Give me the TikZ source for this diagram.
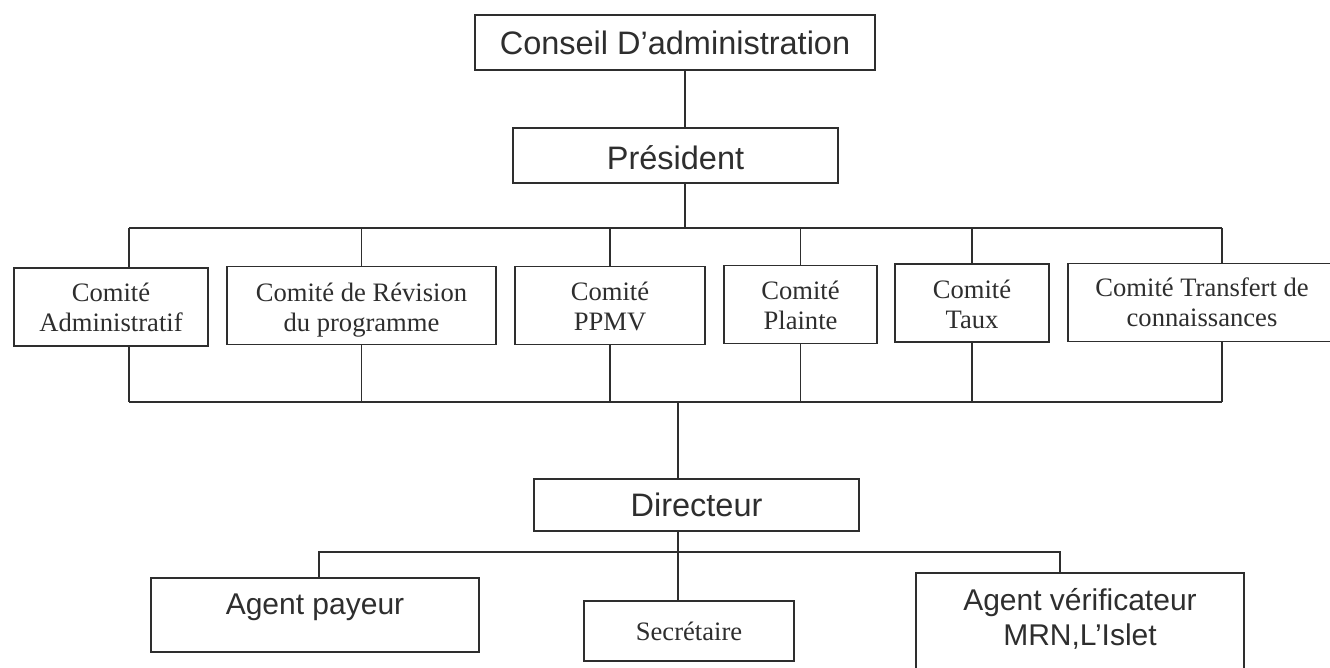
\documentclass[tikz,border=0pt]{standalone}
\usepackage{fontspec}
\setmainfont{Liberation Serif}
\setsansfont{Liberation Sans}
\usepackage{tikz}
\usetikzlibrary{positioning,calc}
\definecolor{ink}{HTML}{2E2E2E}
% move a (multi-line) label up or down inside its box
\newcommand\lift[2]{\raisebox{#1}[\height][\depth]{\begin{tabular}{@{}c@{}}#2\end{tabular}}}
\tikzset{
  box/.style={draw=ink, text=ink, line width=1.5pt, inner sep=0pt, align=center},
  headbox/.style={box, font=\sffamily\fontsize{32.5}{38}\selectfont},
  agentbox/.style={box, font=\sffamily\fontsize{30}{35}\selectfont},
  comitebox/.style={box, font=\fontsize{26.6}{30}\selectfont},
  link/.style={draw=ink, line width=1.5pt}
}

\begin{document}
\begin{tikzpicture}[x=1pt,y=-1pt]
	%% frame of the page
	\fill[white] (0,0) rectangle (1330,667);
	\useasboundingbox (0,0) rectangle (1330,667);
	\clip (0,0) rectangle (1330,667);

	\def\busTop{228} % bus over the comites
	\def\busLow{402} % bus under the comites
	\def\busAgt{552} % bus over the agents

	% top of the chart
	\node[headbox, minimum width=400, minimum height=55] (conseil) at (675,42.5) {Conseil D’administration};
	\node[headbox, minimum width=325, minimum height=55] (pres) at (675.5,155.5) {\lift{-6pt}{Président}};

	% comites
	\node[comitebox, minimum width=194, minimum height=78] (adm) at (111,307) {\lift{-3pt}{Comité\\Administratif}};
	\node[comitebox, minimum width=269, minimum height=78] (rev) at (361.5,305.5) {\lift{-5pt}{Comité de Révision\\du programme}};
	\node[comitebox, minimum width=190, minimum height=78] (ppmv) at (610,305.5) {\lift{-4pt}{Comité\\PPMV}};
	\node[comitebox, minimum width=153, minimum height=78] (plainte) at (800.5,304.5) {\lift{-4pt}{Comité\\Plainte}};
	\node[comitebox, minimum width=154, minimum height=78] (taux) at (972,303) {\lift{-4pt}{Comité\\Taux}};
	\node[comitebox, minimum width=268, minimum height=78] (transf) at (1202,302.5) {\lift{-3pt}{Comité Transfert de\\connaissances}};

	% direction
	\node[headbox, minimum width=325, minimum height=52] (dir) at (696.5,505) {\lift{-4pt}{Directeur}};
	\node[agentbox, minimum width=328, minimum height=74] (payeur) at (315,615) {\lift{8pt}{Agent payeur}};
	\node[comitebox, minimum width=210, minimum height=60] (secr) at (689,631) {Secrétaire};
	\node[agentbox, minimum width=328, minimum height=102] (verif) at (1080,624) {\lift{3pt}{Agent vérificateur\\MRN,L’Islet}};

	\coordinate (spine) at (685,0);
	\coordinate (spineLow) at (678,0);

	% links
	\path[link] (conseil.south -| spine) -- (pres.north -| spine);
	\path[link] (pres.south -| spine) -- (spine |- 0,\busTop);
	\path[link] ([xshift=18]adm.north |- 0,\busTop) -- ([xshift=20]transf.north |- 0,\busTop);
	\path[link] ([xshift=18]adm.south |- 0,\busLow) -- ([xshift=20]transf.south |- 0,\busLow);
	\foreach \n/\dx in {adm/18, rev/0, ppmv/0, plainte/0, taux/0, transf/20} {
		\path[link] ([xshift=\dx]\n.north) -- ([xshift=\dx]\n.north |- 0,\busTop);
		\path[link] ([xshift=\dx]\n.south) -- ([xshift=\dx]\n.south |- 0,\busLow);
	}
	\path[link] (spineLow |- 0,\busLow) -- (dir.north -| spineLow);
	\path[link] (dir.south -| spineLow) -- (secr.north -| spineLow);
	\path[link] ([xshift=4]payeur.north) -- ([xshift=4]payeur.north |- 0,\busAgt)
		-- ([xshift=-20]verif.north |- 0,\busAgt) -- ([xshift=-20]verif.north);

\end{tikzpicture}
\end{document}
